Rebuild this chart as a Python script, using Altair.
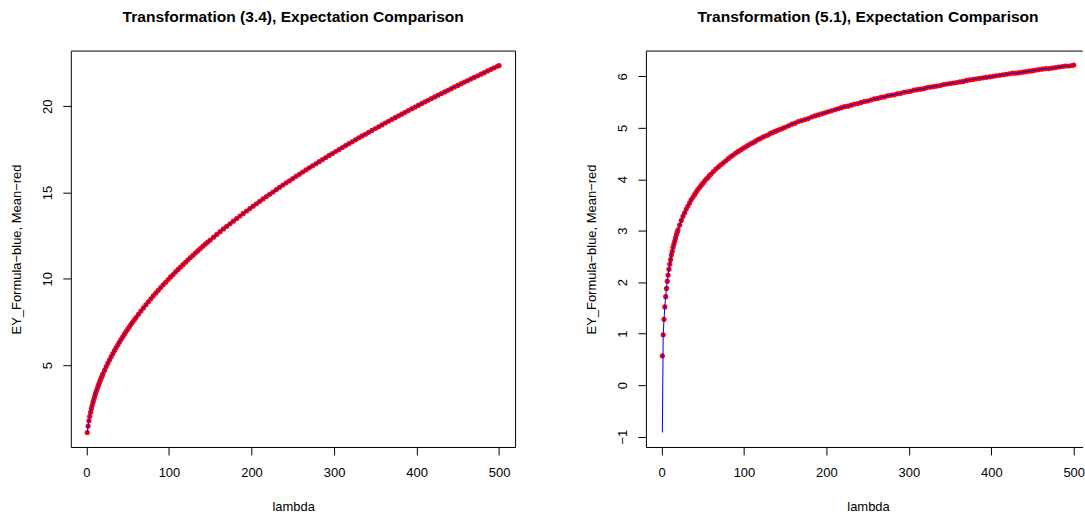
import altair as alt
import pandas as pd

# lambda values at which the means are shown (dense where the curves are steep)
lam = [1, 2, 3, 4, 5, 6, 7, 8, 9, 10, 11, 12, 13, 14, 15, 16, 17, 18, 19, 20,
       22, 24, 26, 28, 30, 32, 34, 36, 38, 40, 42, 44, 46, 48, 50, 52, 54, 56, 58, 60,
       63, 66, 69, 72, 75, 78, 81, 84, 87, 90, 93, 96, 99, 102, 105, 108, 111, 114, 117, 120,
       123, 126, 129, 132, 135, 138, 141, 144, 147, 150,
       154, 158, 162, 166, 170, 174, 178, 182, 186, 190,
       194, 198, 202, 206, 210, 214, 218, 222, 226, 230,
       234, 238, 242, 246, 250, 254, 258, 262, 266, 270,
       274, 278, 282, 286, 290, 294, 298, 302, 306, 310,
       314, 318, 322, 326, 330, 334, 338, 342, 346, 350,
       354, 358, 362, 366, 370, 374, 378, 382, 386, 390,
       394, 398, 402, 406, 410, 414, 418, 422, 426, 430,
       434, 438, 442, 446, 450, 454, 458, 462, 466, 470,
       474, 478, 482, 486, 490, 494, 498, 500]

# Transformation (3.4): simulated mean (red points)
mean_34 = [1.09, 1.46, 1.77, 2.03, 2.26, 2.48, 2.67, 2.85, 3.02, 3.18, 3.34, 3.48, 3.62, 3.76, 3.89, 4.02, 4.14, 4.26, 4.37, 4.49,
           4.70, 4.91, 5.11, 5.30, 5.49, 5.67, 5.84, 6.01, 6.17, 6.33, 6.49, 6.64, 6.79, 6.94, 7.08, 7.22, 7.36, 7.49, 7.62, 7.75,
           7.94, 8.13, 8.31, 8.49, 8.67, 8.84, 9.01, 9.17, 9.33, 9.49, 9.65, 9.80, 9.96, 10.11, 10.25, 10.40, 10.54, 10.68, 10.82, 10.96,
           11.10, 11.23, 11.36, 11.49, 11.62, 11.75, 11.88, 12.01, 12.13, 12.25,
           12.41, 12.57, 12.73, 12.89, 13.04, 13.19, 13.34, 13.49, 13.64, 13.79,
           13.93, 14.07, 14.21, 14.35, 14.49, 14.63, 14.77, 14.90, 15.03, 15.17,
           15.30, 15.43, 15.56, 15.68, 15.81, 15.94, 16.06, 16.19, 16.31, 16.43,
           16.55, 16.67, 16.79, 16.91, 17.03, 17.15, 17.26, 17.38, 17.49, 17.61,
           17.72, 17.83, 17.94, 18.06, 18.17, 18.28, 18.38, 18.49, 18.60, 18.71,
           18.81, 18.92, 19.03, 19.13, 19.24, 19.34, 19.44, 19.54, 19.65, 19.75,
           19.85, 19.95, 20.05, 20.15, 20.25, 20.35, 20.45, 20.54, 20.64, 20.74,
           20.83, 20.93, 21.02, 21.12, 21.21, 21.31, 21.40, 21.49, 21.59, 21.68,
           21.77, 21.86, 21.95, 22.05, 22.14, 22.23, 22.32, 22.36]

# Transformation (3.4): formula (blue line) - coincides with the mean
formula_34 = list(mean_34)

# Transformation (5.1): simulated mean (red points)
mean_51 = [0.57, 0.98, 1.28, 1.52, 1.72, 1.88, 2.02, 2.14, 2.25, 2.35, 2.44, 2.53, 2.60, 2.68, 2.74, 2.80, 2.86, 2.92, 2.97, 3.02,
           3.11, 3.20, 3.28, 3.35, 3.42, 3.48, 3.54, 3.60, 3.65, 3.70, 3.75, 3.80, 3.84, 3.88, 3.92, 3.96, 4.00, 4.03, 4.07, 4.10,
           4.15, 4.20, 4.24, 4.28, 4.32, 4.36, 4.40, 4.44, 4.47, 4.51, 4.54, 4.57, 4.60, 4.63, 4.66, 4.69, 4.71, 4.74, 4.77, 4.79,
           4.82, 4.84, 4.86, 4.89, 4.91, 4.93, 4.95, 4.97, 4.99, 5.01,
           5.04, 5.07, 5.09, 5.12, 5.14, 5.16, 5.18, 5.21, 5.23, 5.25,
           5.27, 5.29, 5.31, 5.33, 5.35, 5.37, 5.39, 5.41, 5.42, 5.44,
           5.46, 5.47, 5.49, 5.51, 5.52, 5.54, 5.56, 5.57, 5.59, 5.60,
           5.62, 5.63, 5.64, 5.66, 5.67, 5.69, 5.70, 5.71, 5.73, 5.74,
           5.75, 5.76, 5.78, 5.79, 5.80, 5.81, 5.82, 5.84, 5.85, 5.86,
           5.87, 5.88, 5.89, 5.90, 5.92, 5.93, 5.94, 5.95, 5.96, 5.97,
           5.98, 5.99, 6.00, 6.01, 6.02, 6.03, 6.04, 6.05, 6.06, 6.06,
           6.07, 6.08, 6.09, 6.10, 6.11, 6.12, 6.13, 6.14, 6.15, 6.15,
           6.16, 6.17, 6.18, 6.19, 6.20, 6.20, 6.21, 6.22]

# Transformation (5.1): formula (blue line) - starts far below at lambda = 1
formula_51 = [-0.92] + mean_51[1:]

x_ticks = [0, 100, 200, 300, 400, 500]
y_ticks_34 = [5, 10, 15, 20]
y_ticks_51 = [-1, 0, 1, 2, 3, 4, 5, 6]

title_34 = "Transformation (3.4), Expectation Comparison"
title_51 = "Transformation (5.1), Expectation Comparison"
y_title = "EY_Formula\u2212blue, Mean\u2212red"
x_title = "lambda"

FONT = "Liberation Sans"
H = 397
W1 = 446
W2 = 438


def panel(mean, formula, title, ydom, yvals, xdom, width, x_center, right_border):
    df = pd.DataFrame({"lambda": lam, "mean": mean, "formula": formula})
    xs = alt.Scale(domain=xdom, nice=False, zero=False)
    ys = alt.Scale(domain=ydom, nice=False, zero=False)
    xaxis = alt.Axis(values=x_ticks, title=x_title, titleX=x_center, titleY=64,
                     titleAlign="center", titleBaseline="alphabetic",
                     labelPadding=12, labelFlush=False)
    yaxis = alt.Axis(values=yvals, title=y_title, labelAngle=270, labelAlign="center",
                     labelBaseline="bottom", labelPadding=8, labelFlush=False,
                     titleAngle=270, titleX=-50.5, titleY=H / 2, titleAlign="center",
                     titleBaseline="alphabetic")
    base = alt.Chart(df)
    pts = base.mark_circle(color="#FF0000", size=27, opacity=1).encode(
        x=alt.X("lambda:Q", scale=xs, axis=xaxis),
        y=alt.Y("mean:Q", scale=ys, axis=yaxis),
    )
    line = base.mark_line(color="#0000FF", strokeWidth=1).encode(
        x=alt.X("lambda:Q", scale=xs, axis=xaxis),
        y=alt.Y("formula:Q", scale=ys, axis=yaxis),
    )
    one = pd.DataFrame({"d": [0]})
    top = alt.Chart(one).mark_rule(color="black", strokeWidth=1).encode(
        x=alt.value(0), x2=alt.value(width), y=alt.value(0))
    layers = [pts, line, top]
    if right_border:
        rb = alt.Chart(one).mark_rule(color="black", strokeWidth=1).encode(
            x=alt.value(width), y=alt.value(0), y2=alt.value(H))
        layers.append(rb)
    return alt.layer(*layers).properties(
        width=width, height=H,
        title=alt.TitleParams(title, fontSize=15.6, font=FONT, fontWeight="bold",
                              anchor="middle", baseline="alphabetic", offset=12.9,
                              dx=x_center - width / 2, color="black"),
    )


left = panel(mean_34, formula_34, title_34, [0.25, 23.2], y_ticks_34,
             [-18.96, 519.96], W1, 223, True)
right = panel(mean_51, formula_51, title_51, [-1.2, 6.49], y_ticks_51,
              [-18.96, 510.9], W2, 222.7, False)

chart = alt.hconcat(left, right, spacing=130.7, bounds="flush").properties(
    padding={"left": 10, "top": 9.5, "right": 0, "bottom": 0},
    background="white",
).configure_view(strokeOpacity=0).configure_axis(
    domainColor="black", tickColor="black", labelColor="black", titleColor="black",
    labelFont=FONT, titleFont=FONT, labelFontSize=13, titleFontSize=13,
    titleFontWeight="normal", grid=False, tickSize=8, domainWidth=1, tickWidth=1,
    labelOverlap=False,
)

chart.save("out.html", embed_options={"renderer": "svg", "actions": False})
